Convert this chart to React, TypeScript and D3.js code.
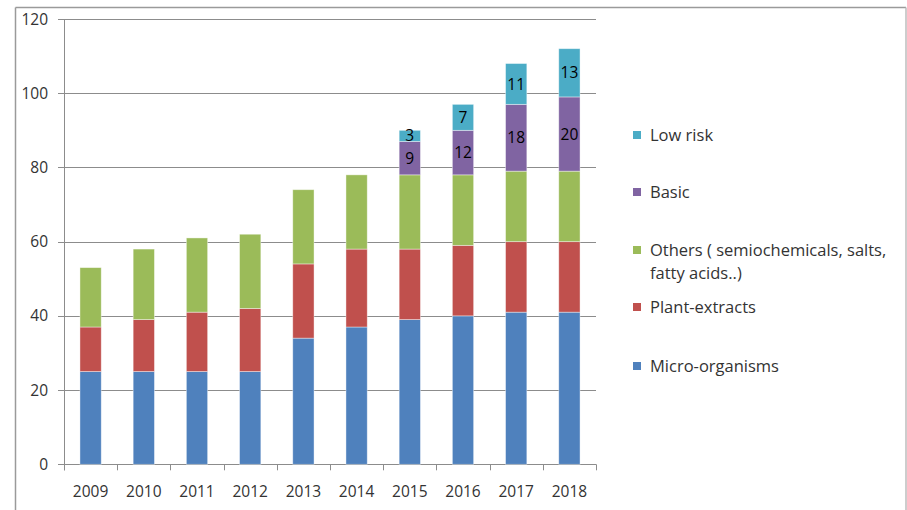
import React from "react";
import * as d3 from "d3";

const years = ["2009", "2010", "2011", "2012", "2013", "2014", "2015", "2016", "2017", "2018"];
const microOrganisms = [25, 25, 25, 25, 34, 37, 39, 40, 41, 41];
const plantExtracts = [12, 14, 16, 17, 20, 21, 19, 19, 19, 19];
const others = [16, 19, 20, 20, 20, 20, 20, 19, 19, 19];
const basic = [0, 0, 0, 0, 0, 0, 9, 12, 18, 20];
const lowRisk = [0, 0, 0, 0, 0, 0, 3, 7, 11, 13];
const yTicks = [0, 20, 40, 60, 80, 100, 120];

const seriesNames = ["Micro-organisms", "Plant-extracts", "Others ( semiochemicals, salts, fatty acids..)", "Basic", "Low risk"];
const seriesData = [microOrganisms, plantExtracts, others, basic, lowRisk];
const seriesColors = ["#4F81BD", "#C0504D", "#9BBB59", "#8064A2", "#4BACC6"];
const labelled = [false, false, false, true, true];

const W = 907;
const H = 510;
const FONT = "'Open Sans', 'Liberation Sans', sans-serif";

export default function App() {
  const plotLeft = 64;
  const plotRight = 596;
  const yTop = 19;
  const yBottom = 464.3;

  const x = d3.scaleBand<string>().domain(years).range([plotLeft, plotRight]).paddingInner(0.6).paddingOuter(0.3);
  const y = d3.scaleLinear().domain([0, 120]).range([yBottom, yTop]);

  const table = years.map((yr, i) => {
    const row: any = { year: yr };
    seriesNames.forEach((s, k) => (row[s] = seriesData[k][i]));
    return row;
  });
  const stacked = d3.stack<any>().keys(seriesNames)(table);

  const bandStep = (plotRight - plotLeft) / years.length;
  const boundaries = d3.range(years.length + 1).map((i) => plotLeft + i * bandStep);

  const legendItems = [
    { idx: 4, lines: ["Low risk"], y: 135 },
    { idx: 3, lines: ["Basic"], y: 192 },
    { idx: 2, lines: ["Others ( semiochemicals, salts,", "fatty acids..)"], y: 250 },
    { idx: 1, lines: ["Plant-extracts"], y: 307 },
    { idx: 0, lines: ["Micro-organisms"], y: 366 },
  ];

  const gridColor = "#8c8c8c";
  const textColor = "#333333";

  return (
    <svg width={W} height={H} style={{ position: "absolute", left: 0, top: 0, background: "#fff" }}>
      {/* outer frame */}
      <line x1={15.5} y1={7.5} x2={906} y2={7.5} stroke="#9a9a9a" strokeWidth={1.5} />
      <line x1={15.5} y1={7.5} x2={15.5} y2={H} stroke="#9a9a9a" strokeWidth={1.5} />
      <line x1={906} y1={7.5} x2={906} y2={H} stroke="#bdbdbd" strokeWidth={1.5} />

      {/* gridlines & y ticks */}
      {yTicks.map((t) => (
        <g key={t}>
          <line x1={plotLeft - 6} x2={plotRight} y1={Math.round(y(t)) + 0.5} y2={Math.round(y(t)) + 0.5} stroke={gridColor} strokeWidth={1} />
          <text x={48} y={y(t)} dy="0.36em" textAnchor="end" fontFamily={FONT} fontSize={15.5} fill={textColor}>
            {t}
          </text>
        </g>
      ))}
      <line x1={plotLeft + 0.5} x2={plotLeft + 0.5} y1={y(120)} y2={yBottom + 6} stroke={gridColor} />
      {boundaries.map((b, i) => (
        <line key={i} x1={Math.round(b) + 0.5} x2={Math.round(b) + 0.5} y1={yBottom} y2={yBottom + 6} stroke={gridColor} />
      ))}

      {/* bars */}
      {stacked.map((layer, k) => (
        <g key={k} fill={seriesColors[k]}>
          {layer.map((d, i) => {
            const h = y(d[0]) - y(d[1]);
            if (h <= 0) return null;
            return (
              <rect
                key={i}
                x={x(years[i])}
                y={y(d[1])}
                width={x.bandwidth()}
                height={h}
                stroke="#ffffff"
                strokeOpacity={0.5}
                strokeWidth={0.8}
              />
            );
          })}
        </g>
      ))}

      {/* data labels */}
      {stacked.map((layer, k) =>
        labelled[k]
          ? layer.map((d, i) => {
              const v = d[1] - d[0];
              if (v <= 0) return null;
              return (
                <text
                  key={`${k}-${i}`}
                  x={(x(years[i]) as number) + x.bandwidth() / 2}
                  y={y((d[0] + d[1]) / 2)}
                  dy="0.36em"
                  textAnchor="middle"
                  fontFamily={FONT}
                  fontSize={15.5}
                  fill="#000"
                >
                  {v}
                </text>
              );
            })
          : null
      )}

      {/* x labels */}
      {years.map((yr) => (
        <text
          key={yr}
          x={(x(yr) as number) + x.bandwidth() / 2}
          y={491}
          dy="0.36em"
          textAnchor="middle"
          fontFamily={FONT}
          fontSize={15.5}
          fill={textColor}
        >
          {yr}
        </text>
      ))}

      {/* legend */}
      {legendItems.map((it) => (
        <g key={it.idx}>
          <rect x={633} y={it.y - 4} width={8} height={8} fill={seriesColors[it.idx]} />
          {it.lines.map((ln, j) => (
            <text key={j} x={650} y={it.y + j * 23} dy="0.36em" fontFamily={FONT} fontSize={16.5} fill={textColor}>
              {ln}
            </text>
          ))}
        </g>
      ))}
    </svg>
  );
}
